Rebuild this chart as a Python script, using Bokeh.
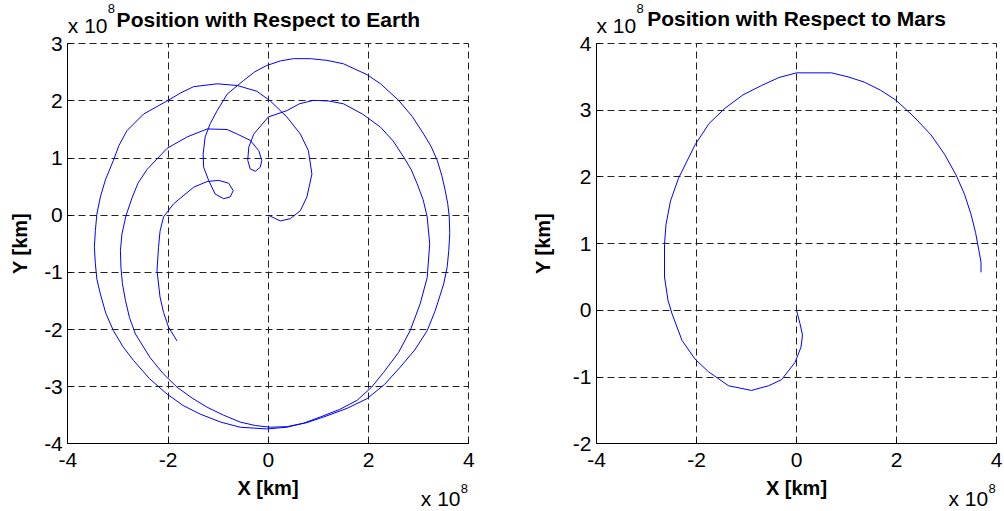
from bokeh.plotting import figure
from bokeh.models import Range1d, Label, FixedTicker, LinearAxis, Grid
from bokeh.layouts import row
from bokeh.embed import file_html
from bokeh.resources import INLINE

# Position relative to Earth, units of 1e8 km
earth_x = [0, 0.24, 0.44, 0.64, 0.77, 0.87, 0.8, 0.64, 0.37, 0.04,
           -0.23, -0.62, -1.02, -1.49, -1.75, -2.02, -2.49, -2.82, -2.98, -3.09,
           -3.25, -3.35, -3.42, -3.45, -3.47, -3.45, -3.42, -3.35, -3.24, -3.09,
           -2.9, -2.69, -2.37, -2.02, -1.7, -1.36, -0.95, -0.56, -0.03, 0.37,
           0.7, 1.04, 1.42, 1.77, 2.06, 2.3, 2.6, 2.83, 3.03, 3.17,
           3.22, 3.17, 3.09, 2.97, 2.85, 2.7, 2.49, 2.24, 1.88, 1.5,
           1.2, 0.9, 0.62, 0.37, 0, -0.29, -0.39, -0.41, -0.36, -0.26,
           -0.16, -0.13, -0.19, -0.36, -0.62, -0.82, -1.22, -1.62, -2.02, -2.42,
           -2.6, -2.72, -2.84, -2.92, -2.95, -2.94, -2.91, -2.85, -2.77, -2.65,
           -2.36, -2.1, -1.82, -1.52, -1.22, -0.89, -0.56, -0.26, 0.04, 0.37,
           0.77, 1.17, 1.57, 1.97, 2.32, 2.63, 2.92, 3.17, 3.33, 3.5,
           3.57, 3.6, 3.62, 3.61, 3.58, 3.53, 3.46, 3.37, 3.25, 3.1,
           2.87, 2.6, 2.24, 1.97, 1.5, 1.17, 0.84, 0.5, 0.24, -0.03,
           -0.27, -0.49, -0.82, -1.02, -1.16, -1.26, -1.3, -1.29, -1.19, -1.06,
           -0.89, -0.76, -0.7, -0.79, -0.99, -1.22, -1.49, -1.89, -2.09, -2.16,
           -2.19, -2.22, -2.16, -2.09, -1.99, -1.82]
earth_y = [0, -0.1, -0.06, 0.08, 0.32, 0.72, 1.13, 1.42, 1.72, 2.0,
           2.17, 2.27, 2.3, 2.25, 2.14, 2.0, 1.77, 1.48, 1.22, 0.96,
           0.62, 0.32, 0.02, -0.27, -0.56, -0.85, -1.12, -1.38, -1.72, -2.02,
           -2.3, -2.54, -2.86, -3.13, -3.33, -3.48, -3.62, -3.71, -3.74, -3.71,
           -3.64, -3.53, -3.4, -3.24, -3.01, -2.75, -2.4, -2.02, -1.55, -1.09,
           -0.5, -0.03, 0.27, 0.55, 0.8, 1.02, 1.3, 1.54, 1.77, 1.95,
           2.0, 2.01, 1.95, 1.83, 1.72, 1.42, 1.19, 0.96, 0.81, 0.77,
           0.84, 0.96, 1.13, 1.31, 1.42, 1.5, 1.51, 1.37, 1.17, 0.8,
           0.56, 0.3, -0.01, -0.33, -0.62, -0.91, -1.2, -1.49, -1.79, -2.08,
           -2.49, -2.77, -3.01, -3.2, -3.36, -3.5, -3.62, -3.68, -3.71, -3.7,
           -3.63, -3.51, -3.38, -3.21, -2.96, -2.66, -2.36, -2.02, -1.67, -1.2,
           -0.9, -0.62, -0.32, -0.03, 0.2, 0.43, 0.7, 0.96, 1.2, 1.42,
           1.73, 2.01, 2.3, 2.46, 2.65, 2.71, 2.74, 2.74, 2.7, 2.62,
           2.51, 2.36, 2.12, 1.83, 1.6, 1.37, 1.07, 0.84, 0.61, 0.37,
           0.29, 0.32, 0.43, 0.56, 0.61, 0.59, 0.49, 0.2, -0.03, -0.28,
           -0.56, -0.97, -1.43, -1.7, -1.96, -2.2]

# Position relative to Mars, units of 1e8 km
mars_x = [0, 0.07, 0.12, 0.09, -0.03, -0.3, -0.56, -0.9, -1.36, -1.76,
          -2.03, -2.29, -2.49, -2.57, -2.64, -2.64, -2.61, -2.52, -2.36, -2.03,
          -1.75, -1.43, -1.07, -0.7, -0.35, 0, 0.7, 1.03, 1.36, 1.68,
          1.99, 2.35, 2.69, 2.96, 3.19, 3.36, 3.49, 3.58, 3.65, 3.69,
          3.69]
mars_y = [0, -0.2, -0.37, -0.55, -0.78, -1.04, -1.13, -1.2, -1.13, -0.92,
          -0.73, -0.45, -0.05, 0.15, 0.5, 0.99, 1.29, 1.64, 1.98, 2.48,
          2.8, 3.03, 3.23, 3.37, 3.49, 3.56, 3.56, 3.5, 3.42, 3.3,
          3.15, 2.9, 2.63, 2.34, 2.03, 1.74, 1.44, 1.17, 0.89, 0.72,
          0.57]

earth_xticks = [-4, -2, 0, 2, 4]
earth_yticks = [-4, -3, -2, -1, 0, 1, 2, 3]
mars_xticks = [-4, -2, 0, 2, 4]
mars_yticks = [-2, -1, 0, 1, 2, 3, 4]

titles = ["Position with Respect to Earth", "Position with Respect to Mars"]
x_label = "X [km]"
y_label = "Y [km]"
exp_text = "x 10"
exp_power = "8"

FONT = "Liberation Sans"
H = 511
SHIFT = 7  # rendered baseline sits this many px below the requested one


def make_plot(xs, ys, xticks, yticks, title, width, frame_l, frame_r,
              frame_t, frame_b, ystandoff, title_base, page_off):
    xlo, xhi = xticks[0], xticks[-1]
    ylo, yhi = yticks[0], yticks[-1]
    sx = (xhi - xlo) / (frame_r - frame_l)
    sy = (yhi - ylo) / (frame_b - frame_t)
    xr = Range1d(xlo - frame_l * sx, xhi + (width - frame_r) * sx)
    yr = Range1d(ylo - (H - frame_b) * sy, yhi + frame_t * sy)
    p = figure(width=width, height=H, x_range=xr, y_range=yr,
               output_backend="svg", toolbar_location=None,
               x_axis_location=None, y_axis_location=None, min_border=0)
    p.center = [r for r in p.center if not isinstance(r, Grid)]
    p.outline_line_color = None
    p.background_fill_color = "white"
    p.border_fill_color = "white"

    for dim, ticks, cb in ((0, xticks, (ylo, yhi)), (1, yticks, (xlo, xhi))):
        g = Grid(dimension=dim, ticker=FixedTicker(ticks=ticks),
                 bounds=(ticks[0], ticks[-1]), cross_bounds=cb,
                 grid_line_color="#222222", grid_line_dash="7 4",
                 grid_line_width=1)
        p.add_layout(g)

    p.line(xs, ys, line_color="#0000ff", line_width=1)

    xa = LinearAxis(fixed_location=ylo, bounds=(xlo, xhi),
                    ticker=FixedTicker(ticks=xticks), axis_label=x_label,
                    major_label_overrides={t: str(t) for t in xticks})
    ya = LinearAxis(fixed_location=xlo, bounds=(ylo, yhi),
                    ticker=FixedTicker(ticks=yticks), axis_label=y_label,
                    major_label_overrides={t: str(t) for t in yticks})
    for ax in (xa, ya):
        ax.major_tick_in = 4
        ax.major_tick_out = 0
        ax.minor_tick_line_color = None
        ax.axis_line_color = "black"
        ax.major_tick_line_color = "black"
        ax.major_label_text_font = FONT
        ax.major_label_text_font_size = "21px"
        ax.major_label_text_color = "black"
        ax.axis_label_text_font = FONT
        ax.axis_label_text_font_size = "20px"
        ax.axis_label_text_font_style = "bold"
        ax.axis_label_text_color = "black"
    xa.major_label_standoff = 9
    xa.axis_label_standoff = 7
    ya.major_label_standoff = 5
    ya.axis_label_standoff = ystandoff
    p.add_layout(xa, "below")
    p.add_layout(ya, "left")

    def X(px):
        return xlo + (px - page_off - frame_l) * sx

    def Y(py):
        return yhi + (frame_t - (py - SHIFT)) * sy

    def lab(x, y, text, size, style="normal", align="left"):
        p.add_layout(Label(x=x, y=y, text=text, text_align=align,
                           text_baseline="alphabetic", text_font=FONT,
                           text_font_size=size, text_font_style=style,
                           text_color="black"))

    lab((xlo + xhi) / 2, Y(title_base), title, "21px", "bold", "center")
    lab(X(page_off + frame_l), Y(31.5), exp_text, "21px")
    lab(X(page_off + frame_l + 40), Y(15), exp_power, "13px")
    lab(X(page_off + frame_r - 48), Y(505), exp_text, "21px")
    lab(X(page_off + frame_r - 8), Y(495), exp_power, "13px")
    return p


left = make_plot(earth_x, earth_y, earth_xticks, earth_yticks, titles[0],
                 500, 67.3, 468.3, 43.3, 443.3, 10, 26, 0)
right = make_plot(mars_x, mars_y, mars_xticks, mars_yticks, titles[1],
                  504, 96, 496, 43, 443.3, 16, 24.5, 500)

layout = row(left, right)
open("out.html", "w").write(file_html(layout, INLINE))
